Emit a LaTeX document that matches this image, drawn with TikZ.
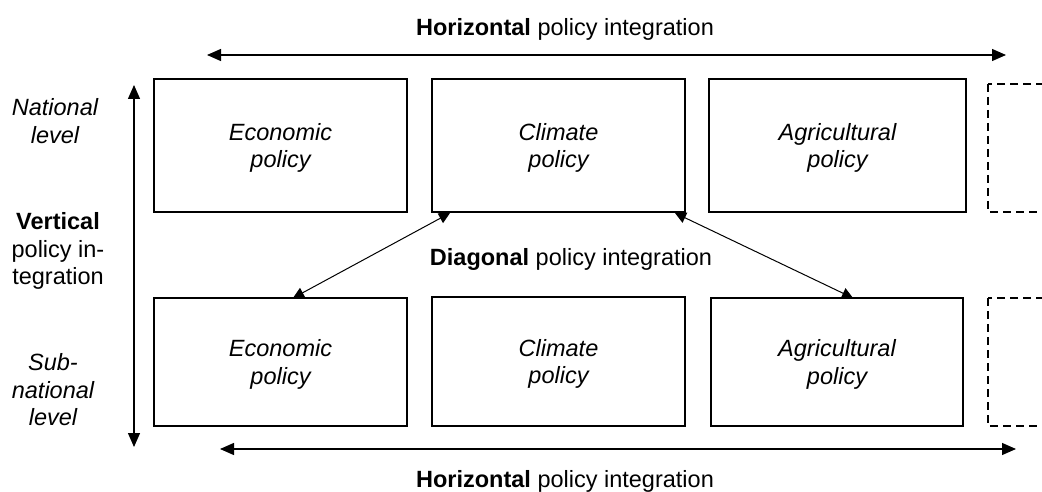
\documentclass[tikz,border=0pt]{standalone}
\usepackage{fontspec}
\setmainfont{Liberation Sans}
\usetikzlibrary{arrows.meta}
\begin{document}
\begin{tikzpicture}[x=1pt,y=-1pt,
  txt/.style={font=\fontsize{23.5}{27.5}\selectfont, inner sep=0pt, align=center},
  policybox/.style={txt, draw, line width=2.4pt, text depth=0pt, font=\fontsize{23.5}{27.5}\selectfont\itshape},
  morebox/.style={draw, dashed, line width=1.4pt, dash pattern=on 8pt off 5pt},
  axis/.style={line width=1.3pt, {Triangle[length=14pt,width=12pt]}-{Triangle[length=14pt,width=12pt]}},
  diag/.style={line width=1pt, {Triangle[length=11pt,width=11pt]}-{Triangle[length=11pt,width=11pt]}}
]
\useasboundingbox (0,0) rectangle (1042,492);
\clip (0,0) rectangle (1042,492);

% top row
\node[policybox, minimum width=253pt, minimum height=133pt] (ecoN) at (280.5,145.5) {Economic\\policy};
\node[policybox, minimum width=253pt, minimum height=133pt] (cliN) at (558.5,145.5) {Climate\\policy};
\node[policybox, minimum width=257pt, minimum height=133pt] (agrN) at (837.5,145.5) {Agricultural\\policy};
\draw[morebox] (988,84) rectangle (1070,212);

% bottom row
\node[policybox, minimum width=253pt, minimum height=128pt] (ecoS) at (280.5,362) {Economic\\policy};
\node[policybox, minimum width=253pt, minimum height=129pt] (cliS) at (558.5,361.5) {Climate\\policy};
\node[policybox, minimum width=252pt, minimum height=128pt] (agrS) at (837,362) {Agricultural\\policy};
\draw[morebox] (988,298) rectangle (1070,426);

% labels
\node[txt, anchor=base] (htop) at (565,36) {\textbf{Horizontal} policy integration};
\node[txt, anchor=base] (hbot) at (565,487) {\textbf{Horizontal} policy integration};
\node[txt, anchor=base] (dlab) at (571,265) {\textbf{Diagonal} policy integration};
\node[txt, font=\fontsize{23.5}{27.5}\selectfont\itshape] (natl) at (55,121) {National\\level};
\node[txt] (vert) at (58,251) {\textbf{Vertical}\\policy in-\\tegration};
\node[txt, font=\fontsize{23.5}{27.5}\selectfont\itshape] (subn) at (53,390) {Sub-\\national\\level};

% arrow ends
\coordinate (htopL) at (207,55);
\coordinate (htopR) at (1006,55);
\coordinate (hbotL) at (220,449);
\coordinate (hbotR) at (1016,449);
\coordinate (vtop) at (134,85);
\coordinate (vbot) at (134,447);
\coordinate (d1a) at (293,298);
\coordinate (d1b) at (450,213);
\coordinate (d2a) at (675,213);
\coordinate (d2b) at (853,298);

\draw[axis] (htopL) -- (htopR);
\draw[axis] (hbotL) -- (hbotR);
\draw[axis] (vtop) -- (vbot);
\draw[diag] (d1a) -- (d1b);
\draw[diag] (d2a) -- (d2b);
\end{tikzpicture}
\end{document}
